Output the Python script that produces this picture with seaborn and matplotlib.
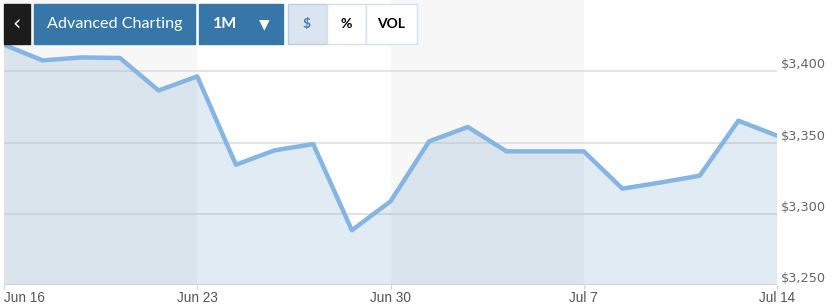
import matplotlib
matplotlib.use("Agg")
import matplotlib.pyplot as plt
from matplotlib.patches import Rectangle
from matplotlib.transforms import ScaledTranslation
import seaborn as sns
import pandas as pd

# ---- data ----
dates = ["Jun 16", "Jun 17", "Jun 18", "Jun 19", "Jun 20",
         "Jun 23", "Jun 24", "Jun 25", "Jun 26", "Jun 27",
         "Jun 30", "Jul 1", "Jul 2", "Jul 3", "Jul 4",
         "Jul 7", "Jul 8", "Jul 9", "Jul 10", "Jul 11",
         "Jul 14"]
prices = [3418.6, 3407.6, 3409.7, 3409.3, 3386.5,
          3396.4, 3334.4, 3344.5, 3348.9, 3288.4,
          3308.7, 3350.8, 3360.9, 3343.8, 3343.8,
          3343.8, 3317.6, 3322.0, 3326.7, 3365.3,
          3354.8]
tick_labels = ["Jun 16", "Jun 23", "Jun 30", "Jul 7", "Jul 14"]
y_ticks = [3250, 3300, 3350, 3400]
y_tick_labels = ["$3,250", "$3,300", "$3,350", "$3,400"]
buttons = ["Advanced Charting", "1M", "$", "%", "VOL"]

df = pd.DataFrame({"slot": range(len(prices)), "date": dates, "price": prices})
tick_pos = [dates.index(t) for t in tick_labels]

W, H = 832, 308
sns.set_theme(style="white")
plt.rcParams['font.family'] = ['DejaVu Sans']
fig = plt.figure(figsize=(W / 100, H / 100), dpi=100)

# axes occupying pixels x 4..777, y 0..285 (top-down)
left, right, top, bottom = 4, 777, 0, 285
ax = fig.add_axes([left / W, 1 - bottom / H, (right - left) / W, (bottom - top) / H])

# alternating week bands
for i in range(0, len(tick_pos) - 1, 2):
    ax.axvspan(tick_pos[i], tick_pos[i + 1], color="#f7f7f7", lw=0, zorder=0)

# gridlines
for yv in y_ticks:
    ax.axhline(yv, color="#dcdfe2", lw=1.2, zorder=1)

ax.fill_between(df["slot"], df["price"], 3200, color="#6a9bc4", alpha=0.2, lw=0, zorder=2)
sns.lineplot(data=df, x="slot", y="price", ax=ax, color="#85b5e3", lw=3.2, zorder=3)

ax.set_xlim(0, len(prices) - 1)
ax.set_ylim(3250, 3450)
for s in ax.spines.values():
    s.set_visible(False)
ax.set_xlabel("")
ax.set_ylabel("")

ax.set_xticks(tick_pos)
ax.set_xticklabels(tick_labels)
ax.tick_params(axis="x", length=3, color="#c6d6e6", width=1, pad=1.5,
               labelsize=9.5, labelcolor="#555555", bottom=True)
xl = ax.get_xticklabels()
xl[0].set_horizontalalignment("left")
for lab in xl:
    lab.set_fontfamily(["Liberation Sans Narrow", "Liberation Sans", "DejaVu Sans"])
    lab.set_fontsize(9.8)

ax.yaxis.tick_right()
ax.set_yticks(y_ticks)
ax.set_yticklabels(y_tick_labels)
ax.tick_params(axis="y", length=0, pad=3, labelsize=9.3, labelcolor="#666666", right=True, left=False)
for lab in ax.get_yticklabels():
    lab.set_transform(lab.get_transform() + ScaledTranslation(0, 0.08, fig.dpi_scale_trans))

# ---- toolbar ----
def frect(x, y, w, h, **kw):
    fig.add_artist(Rectangle((x / W, 1 - (y + h) / H), w / W, h / H,
                             transform=fig.transFigure, **kw))

def ftext(x, y, s, **kw):
    fig.text(x / W, 1 - y / H, s, va="center", ha="center", **kw)

frect(4, 4, 26, 40, color="#1c1c1c", zorder=5)
ftext(17, 23, "\u2039", color="white", fontsize=15, zorder=6)
frect(34, 4, 161, 40, color="#3776a8", zorder=5)
ftext(114.5, 24, buttons[0], color="white", fontsize=11.6, zorder=6, family=["Lato", "DejaVu Sans"])
frect(199, 4, 84, 40, color="#3776a8", zorder=5)
ftext(225, 24, buttons[1], color="white", fontsize=11.5, fontweight="bold", zorder=6,
      family=["Lato", "DejaVu Sans"])
ftext(264, 24, "\u25BC", color="white", fontsize=10, zorder=6)
frect(287.5, 4.5, 39, 39, facecolor="#dbe5f0", edgecolor="#b9cde3", lw=1, zorder=5)
ftext(307, 24, buttons[2], color="#4f7db0", fontsize=10, fontweight="bold", zorder=6,
      family=["Lato", "DejaVu Sans"])
frect(327, 4.5, 38.5, 39, facecolor="white", edgecolor="#d5e0ec", lw=1, zorder=5)
ftext(346, 24, buttons[3], color="black", fontsize=10, fontweight="bold", zorder=6,
      family=["Lato", "DejaVu Sans"])
frect(366, 4.5, 51, 39, facecolor="white", edgecolor="#d5e0ec", lw=1, zorder=5)
ftext(391.5, 24, buttons[4], color="black", fontsize=10, fontweight="bold", zorder=6,
      family=["Lato", "DejaVu Sans"])

fig.savefig("out.png", dpi=100)
